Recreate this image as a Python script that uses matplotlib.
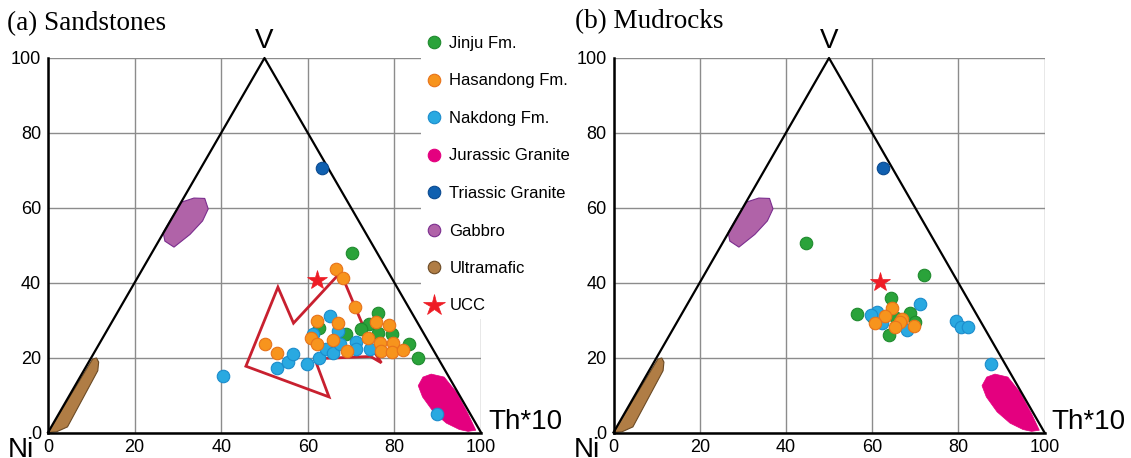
import matplotlib
matplotlib.use("Agg")
import matplotlib.pyplot as plt
from matplotlib.lines import Line2D
from matplotlib.patches import Polygon

# ---------------- data ----------------
ticks = [0, 20, 40, 60, 80, 100]
tick_labels = ["0", "20", "40", "60", "80", "100"]
triangle_x = [0, 50, 100]
triangle_y = [0, 100, 0]

# (a) Sandstones
sand_jinju_x = [70.3, 76.3, 74.1, 76.2, 79.5, 72.4, 68.9, 62.6, 83.4, 85.4]
sand_jinju_y = [47.9, 32.0, 29.1, 26.6, 26.4, 27.7, 26.2, 27.8, 23.7, 19.9]
sand_hasan_x = [66.6, 68.1, 70.8, 62.1, 67.0, 75.8, 78.7, 60.8, 62.1, 65.8,
                73.8, 76.6, 79.7, 69.1, 76.8, 79.4, 82.1, 50.0, 53.0]
sand_hasan_y = [43.7, 41.3, 33.5, 29.9, 29.3, 29.5, 28.6, 25.3, 23.7, 24.6,
                25.3, 23.9, 24.0, 21.8, 21.7, 21.5, 21.9, 23.5, 21.1]
sand_nak_x = [65.1, 53.0, 55.4, 56.6, 59.7, 62.7, 64.1, 65.8, 67.0, 71.1,
              71.1, 74.3, 61.1, 67.4, 40.4, 89.8]
sand_nak_y = [31.0, 17.3, 18.7, 20.9, 18.4, 19.9, 22.4, 21.2, 27.0, 24.2,
              22.4, 22.4, 26.4, 23.7, 15.0, 5.0]
sand_tri_x = [63.2]
sand_tri_y = [70.7]
sand_ucc_x = [62.2]
sand_ucc_y = [40.8]
sand_field_x = [53.1, 45.7, 64.9, 61.6, 74.5, 77.0, 75.2, 70.6, 68.5, 67.2, 56.7]
sand_field_y = [38.8, 17.7, 9.5, 19.7, 20.3, 18.6, 21.8, 34.4, 40.2, 42.3, 29.2]

# (b) Mudrocks
mud_jinju_x = [44.7, 72.1, 64.3, 56.5, 60.2, 68.9, 70.0, 65.5, 63.9]
mud_jinju_y = [50.5, 42.0, 36.0, 31.6, 30.8, 32.0, 29.6, 30.5, 26.0]
mud_hasan_x = [64.6, 62.9, 60.7, 67.0, 66.5, 65.4, 69.7]
mud_hasan_y = [33.2, 31.2, 29.3, 30.4, 29.4, 28.3, 28.4]
mud_nak_x = [71.1, 61.2, 59.8, 62.2, 68.0, 79.4, 80.6, 82.3, 87.5]
mud_nak_y = [34.2, 32.3, 31.3, 29.3, 27.5, 29.9, 28.1, 28.1, 18.2]
mud_tri_x = [62.6]
mud_tri_y = [70.6]
mud_ucc_x = [61.8]
mud_ucc_y = [40.3]

# reference fields
gabbro_x = [26.6, 28.5, 30.8, 33.7, 36.2, 37.0, 35.7, 32.8, 29.1, 27.0]
gabbro_y = [53.4, 57.2, 61.5, 62.6, 62.5, 59.7, 56.5, 52.9, 49.5, 51.1]
ultra_x = [0.0, 10.3, 11.2, 11.7, 11.5, 4.5, 2.0]
ultra_y = [0.0, 19.6, 19.9, 18.8, 16.5, 1.5, 0.2]
granite_x = [85.5, 86.6, 88.5, 91.5, 94.3, 97.0, 98.8, 97.0, 95.0, 92.0, 89.0, 86.5]
granite_y = [12.5, 14.8, 15.6, 14.8, 10.8, 5.0, 0.6, 0.3, 0.8, 2.5, 5.5, 9.5]

legend_labels = ["Jinju Fm.", "Hasandong Fm.", "Nakdong Fm.", "Jurassic Granite",
                 "Triassic Granite", "Gabbro", "Ultramafic", "UCC"]

# ---------------- style ----------------
C_GREEN, E_GREEN = "#2aa33a", "#1f8a2e"
C_ORANGE, E_ORANGE = "#f7941d", "#e8731a"
C_BLUE, E_BLUE = "#29a9e1", "#1b8ccc"
C_MAG = "#e4007f"
C_DBLUE, E_DBLUE = "#1060b0", "#0a4a90"
C_GAB, E_GAB = "#b063a8", "#7b2d8e"
C_ULT, E_ULT = "#b07d45", "#6b4a25"
C_STAR = "#ee1c25"
C_FIELD = "#c8202f"

W, H = 1131, 458
fig = plt.figure(figsize=(W / 100, H / 100), dpi=100)

SANS = ["Liberation Sans", "DejaVu Sans"]
SERIF = ["Liberation Serif", "DejaVu Serif"]
MS = 9


def make_panel(rect, jx, jy, hx, hy, nx, ny, tx, ty, ux, uy, field=None):
    ax = fig.add_axes(rect)
    ax.set_xlim(0, 100)
    ax.set_ylim(0, 100)
    ax.set_xticks(ticks)
    ax.set_yticks(ticks)
    ax.set_xticklabels(tick_labels, family=SANS, fontsize=13)
    ax.set_yticklabels(tick_labels, family=SANS, fontsize=13)
    ax.tick_params(length=0, pad=5)
    ax.grid(True, color="#8c8c8c", lw=1.0, zorder=0)
    ax.set_axisbelow(True)
    for s in ("top", "right"):
        ax.spines[s].set_visible(False)
    for s in ("left", "bottom"):
        ax.spines[s].set_linewidth(1.8)
        ax.spines[s].set_color("black")
        ax.spines[s].set_zorder(5)

    ax.add_patch(Polygon(list(zip(gabbro_x, gabbro_y)), closed=True, fc=C_GAB, ec=E_GAB, lw=0.8, zorder=2))
    ax.add_patch(Polygon(list(zip(ultra_x, ultra_y)), closed=True, fc=C_ULT, ec=E_ULT, lw=0.8, zorder=2, clip_on=False))
    ax.add_patch(Polygon(list(zip(granite_x, granite_y)), closed=True, fc=C_MAG, ec=C_MAG, lw=0.5, zorder=2))
    ax.plot(triangle_x, triangle_y, color="black", lw=1.6, zorder=3, clip_on=False)
    if field is not None:
        ax.add_patch(Polygon(list(zip(*field)), closed=True, fill=False, ec=C_FIELD, lw=2.0, zorder=4))

    kw = dict(ls="none", marker="o", ms=MS, mew=0.8, clip_on=False)
    ax.plot(jx, jy, mfc=C_GREEN, mec=E_GREEN, zorder=6, **kw)
    ax.plot(nx, ny, mfc=C_BLUE, mec=E_BLUE, zorder=7, **kw)
    ax.plot(hx, hy, mfc=C_ORANGE, mec=E_ORANGE, zorder=8, **kw)
    ax.plot(tx, ty, mfc=C_DBLUE, mec=E_DBLUE, zorder=8, **kw)
    ax.plot(ux, uy, ls="none", marker="*", ms=15, mfc=C_STAR, mec=C_STAR, mew=0.5, zorder=9)

    ax.text(50, 101.2, "V", ha="center", va="bottom", fontsize=20, family=SANS)
    ax.text(101.6, 1.0, "Th*10", ha="left", va="baseline", fontsize=20, family=SANS, clip_on=False)
    ax.text(-3.2, -1.3, "Ni", ha="right", va="top", fontsize=20, family=SANS, clip_on=False)
    return ax


rect_a = [48 / W, (H - 432.5) / H, 433 / W, 374.5 / H]
rect_b = [613.5 / W, (H - 432.5) / H, 431 / W, 374.5 / H]

make_panel(rect_a, sand_jinju_x, sand_jinju_y, sand_hasan_x, sand_hasan_y,
           sand_nak_x, sand_nak_y, sand_tri_x, sand_tri_y, sand_ucc_x, sand_ucc_y,
           field=(sand_field_x, sand_field_y))
make_panel(rect_b, mud_jinju_x, mud_jinju_y, mud_hasan_x, mud_hasan_y,
           mud_nak_x, mud_nak_y, mud_tri_x, mud_tri_y, mud_ucc_x, mud_ucc_y)

fig.text(7 / W, 1 - 30 / H, "(a) Sandstones", family=SERIF, fontsize=19.5, va="baseline", ha="left")
fig.text(575 / W, 1 - 28 / H, "(b) Mudrocks", family=SERIF, fontsize=19.5, va="baseline", ha="left")

lk = dict(ls="none", marker="o", ms=MS, mew=0.8)
handles = [
    Line2D([], [], mfc=C_GREEN, mec=E_GREEN, **lk),
    Line2D([], [], mfc=C_ORANGE, mec=E_ORANGE, **lk),
    Line2D([], [], mfc=C_BLUE, mec=E_BLUE, **lk),
    Line2D([], [], mfc=C_MAG, mec=C_MAG, **lk),
    Line2D([], [], mfc=C_DBLUE, mec=E_DBLUE, **lk),
    Line2D([], [], mfc=C_GAB, mec=E_GAB, **lk),
    Line2D([], [], mfc=C_ULT, mec=E_ULT, **lk),
    Line2D([], [], ls="none", marker="*", ms=16, mfc=C_STAR, mec=C_STAR, mew=0.5),
]
leg = fig.legend(handles, legend_labels, loc="upper left",
                 bbox_to_anchor=(421 / W, 1 - 31 / H), frameon=True,
                 facecolor="white", edgecolor="none", framealpha=1, fancybox=False,
                 borderpad=0.3, borderaxespad=0, handlelength=1.0, handletextpad=0.4,
                 labelspacing=1.35, prop={"family": SANS, "size": 12})

fig.savefig("out.png", dpi=100)
